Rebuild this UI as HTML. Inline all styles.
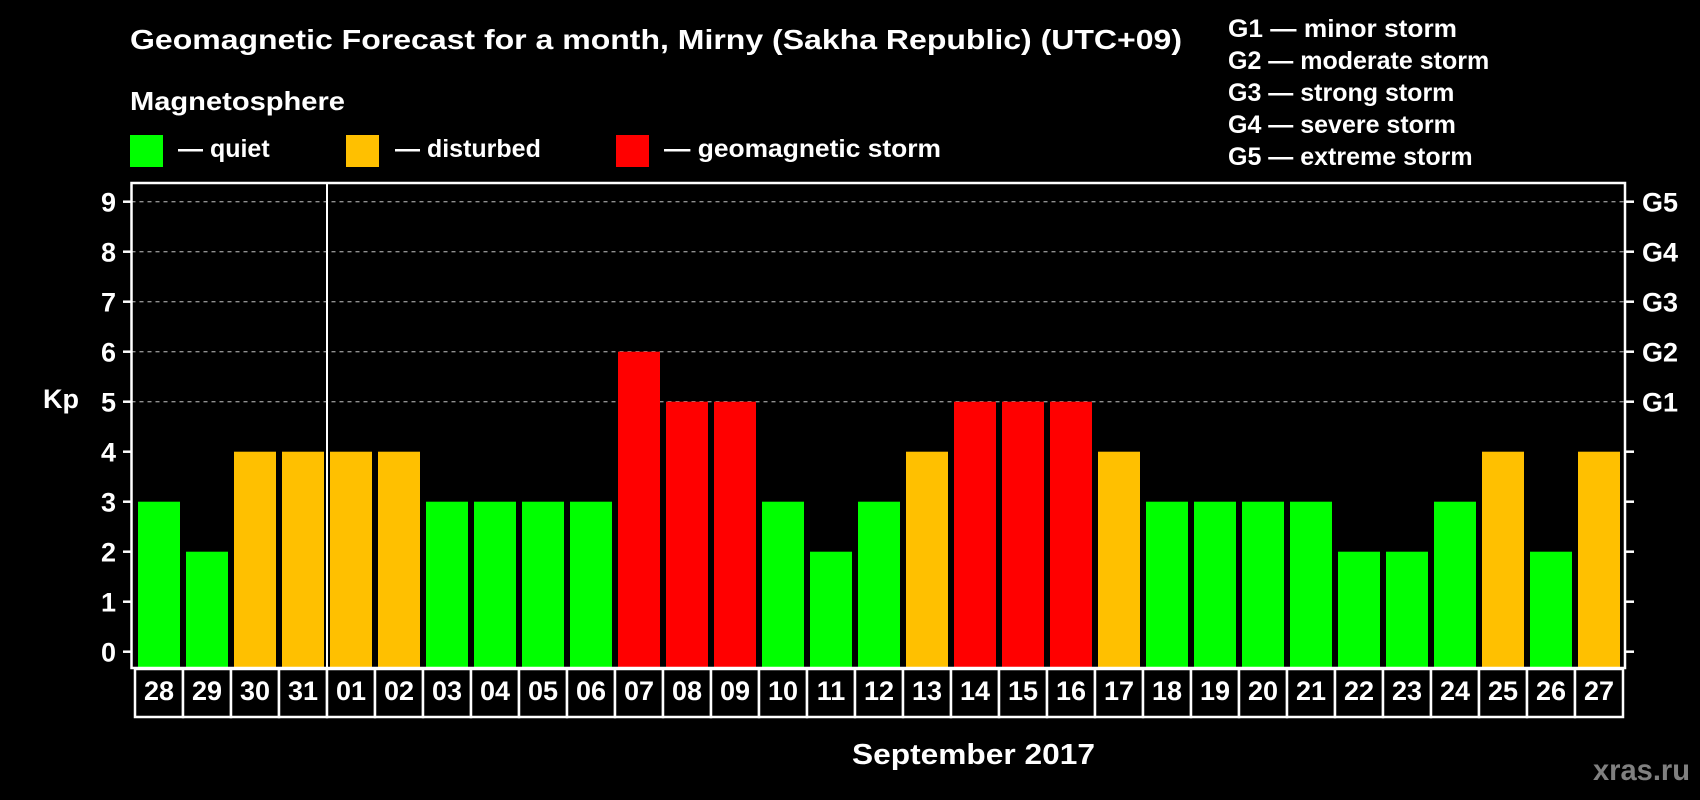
<!DOCTYPE html>
<html><head><meta charset="utf-8"><style>
html,body{margin:0;padding:0;background:#000;}
svg{display:block;font-family:"Liberation Sans",Arial,sans-serif;font-weight:bold;}
</style></head><body>
<svg id="chart" width="1700" height="800" viewBox="0 0 1700 800">
<rect x="0" y="0" width="1700" height="800" fill="#000"/>
<text x="130" y="49" font-size="28" fill="#fff" textLength="1052" lengthAdjust="spacingAndGlyphs">Geomagnetic Forecast for a month, Mirny (Sakha Republic) (UTC+09)</text>
<text x="130" y="110" font-size="26" fill="#fff" textLength="215" lengthAdjust="spacingAndGlyphs">Magnetosphere</text>
<g>
<rect x="130" y="135" width="33" height="32" fill="#00ff00"/>
<text x="178" y="157" font-size="25" fill="#fff">— quiet</text></g>
<g>
<rect x="346" y="135" width="33" height="32" fill="#ffc000"/>
<text x="395" y="157" font-size="25" fill="#fff">— disturbed</text></g>
<g>
<rect x="616" y="135" width="33" height="32" fill="#ff0000"/>
<text x="664" y="157" font-size="25" fill="#fff" textLength="277" lengthAdjust="spacingAndGlyphs">— geomagnetic storm</text></g>
<g font-size="25" fill="#fff">
<text x="1228" y="37" textLength="229" lengthAdjust="spacingAndGlyphs">G1 — minor storm</text>
<text x="1228" y="69">G2 — moderate storm</text>
<text x="1228" y="101">G3 — strong storm</text>
<text x="1228" y="133">G4 — severe storm</text>
<text x="1228" y="165">G5 — extreme storm</text>
</g>
<g id="plot"></g>
<text x="43" y="408" font-size="27" fill="#fff">Kp</text>
<text x="852" y="764" font-size="29" fill="#fff" textLength="243" lengthAdjust="spacingAndGlyphs">September 2017</text>
<text x="1593" y="780" font-size="30" fill="#808080" textLength="97" lengthAdjust="spacingAndGlyphs">xras.ru</text>
</svg>
<script>
const days = ["28","29","30","31","01","02","03","04","05","06","07","08","09","10","11","12","13","14","15","16","17","18","19","20","21","22","23","24","25","26","27"];
const kpValues = [3,2,4,4,4,4,3,3,3,3,6,5,5,3,2,3,4,5,5,5,4,3,3,3,3,2,2,3,4,2,4];
const yTicks = [0,1,2,3,4,5,6,7,8,9];
const gridLevels = [5,6,7,8,9];
const stormLabels = ["G1","G2","G3","G4","G5"];
const stormLevels = [5,6,7,8,9];
const monthBoundaryIndex = 4;

const NS = "http://www.w3.org/2000/svg";
const plot = document.getElementById("plot");
const L = 131.5, R = 1625, T = 183, B = 668;
const Y0 = 651.7, UNIT = 50;
const X0 = 138, STEP = 48, BW = 42;
function y(v){ return Y0 - v*UNIT; }
function x(i){ return X0 + i*STEP; }
function mk(tag, attrs){ const e=document.createElementNS(NS,tag); for(const k in attrs) e.setAttribute(k,attrs[k]); plot.appendChild(e); return e; }
function color(v){ return v>=5 ? "#ff0000" : (v>=4 ? "#ffc000" : "#00ff00"); }

gridLevels.forEach(v=>{
  const g = mk("line",{x1:L,x2:R,y1:y(v),y2:y(v),stroke:"#909090","stroke-width":1.3,"stroke-dasharray":"4 4"});
  
  
});
kpValues.forEach((v,i)=>{
  const b = mk("rect",{x:x(i),y:y(v),width:BW,height:B-y(v),fill:color(v)});
  
  
});
const frame = mk("rect",{x:L,y:T,width:R-L,height:B-T,fill:"none",stroke:"#fff","stroke-width":2.5});


const sep = mk("line",{x1:x(monthBoundaryIndex)-3,x2:x(monthBoundaryIndex)-3,y1:T,y2:B,stroke:"#fff","stroke-width":2});


yTicks.forEach(v=>{
  const t1 = mk("line",{x1:123,x2:L,y1:y(v),y2:y(v),stroke:"#fff","stroke-width":2.5});
  
  
  const t2 = mk("line",{x1:R,x2:1634,y1:y(v),y2:y(v),stroke:"#fff","stroke-width":2.5});
  
  
  const lb = mk("text",{x:116,y:y(v)+10,"font-size":27,fill:"#fff","text-anchor":"end"});
  lb.textContent = v;
  
  
});
stormLabels.forEach((s,i)=>{
  const lb = mk("text",{x:1642,y:y(stormLevels[i])+10,"font-size":27,fill:"#fff"});
  lb.textContent = s;
  
  
});
days.forEach((d,i)=>{
  const c = mk("rect",{x:x(i)-3,y:B+1,width:STEP,height:48,fill:"#000",stroke:"#fff","stroke-width":2.5});
  
  
  const t = mk("text",{x:x(i)+BW/2,y:700,"font-size":27,fill:"#fff","text-anchor":"middle"});
  t.textContent = d;
  
  
});
</script>
</body></html>
